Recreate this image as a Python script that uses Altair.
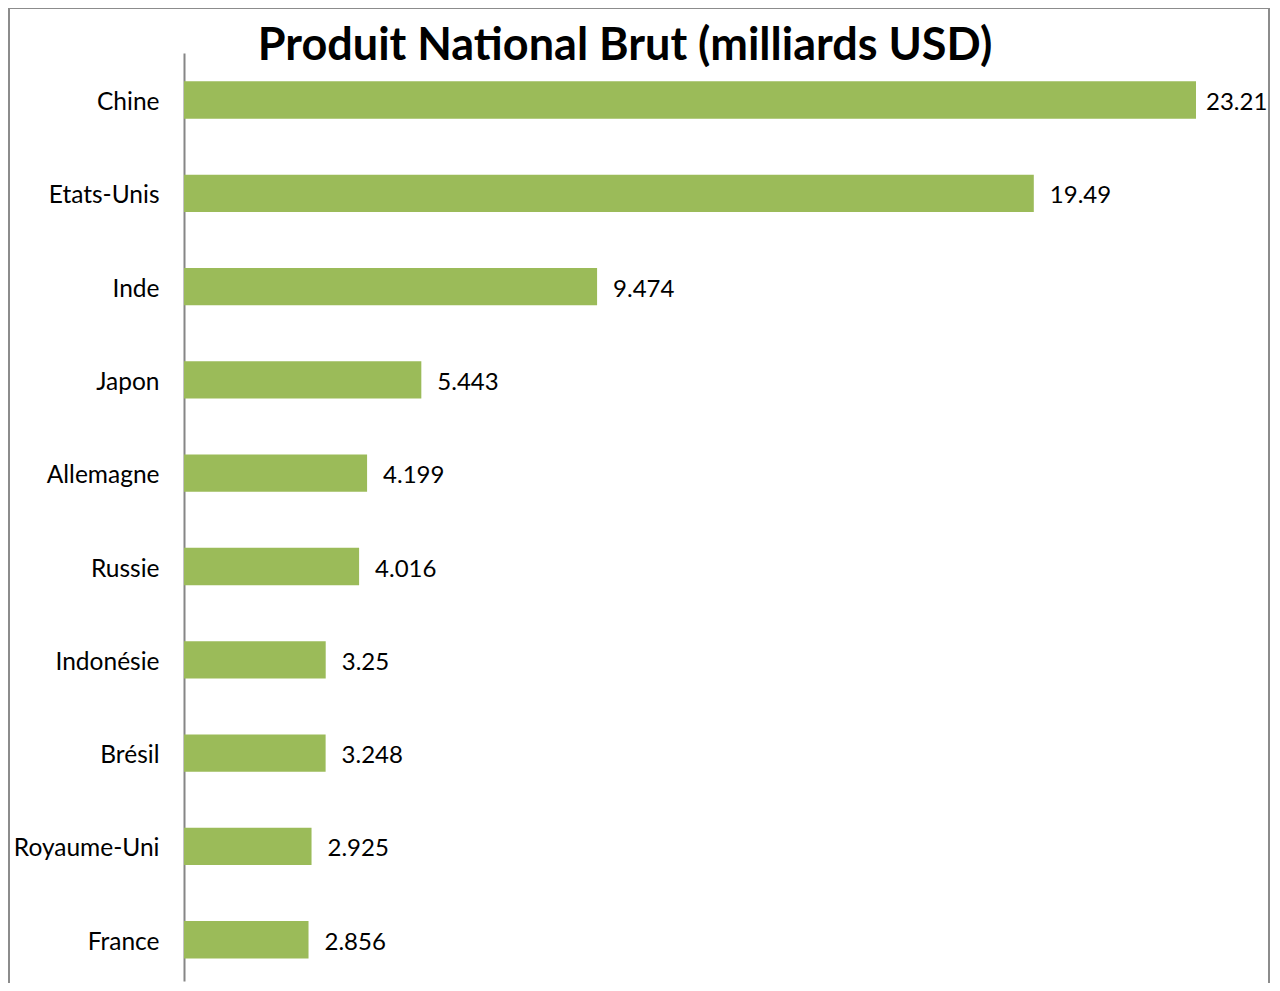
import altair as alt
import pandas as pd

countries = ["Chine", "Etats-Unis", "Inde", "Japon", "Allemagne", "Russie",
             "Indonésie", "Brésil", "Royaume-Uni", "France"]
values = [23.21, 19.49, 9.474, 5.443, 4.199, 4.016, 3.25, 3.248, 2.925, 2.856]
labels = ["23.21", "19.49", "9.474", "5.443", "4.199", "4.016", "3.25", "3.248", "2.925", "2.856"]
title_text = "Produit National Brut (milliards USD)"

df = pd.DataFrame({"pays": countries, "valeur": values, "label": labels})

FONT = "Lato"
W, H = 1012, 928

y_scale = alt.Scale(paddingInner=0.6, paddingOuter=0.273, align=0.556)
y_enc = alt.Y("pays:N", sort=countries, scale=y_scale,
              axis=alt.Axis(title=None, ticks=False, labelPadding=25, labelFontSize=24.5,
                            labelFont=FONT, labelColor="#000000", domainColor="#868686",
                            domainWidth=2, grid=False, labelLimit=300, labelOffset=3))
x_enc = alt.X("valeur:Q", scale=alt.Scale(domain=[0, 23.21], nice=False, zero=True),
              axis=None)
y_plain = alt.Y("pays:N", sort=countries)

bars = alt.Chart(df).mark_bar(color="#9BBB59").encode(x=x_enc, y=y_enc)
text_rest = alt.Chart(df).transform_filter(alt.datum.pays != "Chine").mark_text(
    align="left", baseline="middle", dx=16, dy=3, fontSize=24, font=FONT, color="#000000"
).encode(x=x_enc, y=y_plain, text="label:N")
text_top = alt.Chart(df).transform_filter(alt.datum.pays == "Chine").mark_text(
    align="left", baseline="middle", dx=10, dy=3, fontSize=24, font=FONT, color="#000000"
).encode(x=x_enc, y=y_plain, text="label:N")

one = pd.DataFrame({"t": [title_text]})
border = alt.Chart(one).mark_rect(
    fill=None, stroke="#8c8c8c", strokeWidth=2).encode(
    x=alt.value(-175), x2=alt.value(1085), y=alt.value(-45), y2=alt.value(1060))
title = alt.Chart(one).mark_text(
    align="center", baseline="alphabetic", font=FONT, fontSize=45, fontWeight="bold",
    color="#000000").encode(x=alt.value(441), y=alt.value(7), text="t:N")

chart = alt.layer(border, bars, text_rest, text_top, title).properties(
    width=W, height=H,
    padding={"left": 176, "top": 45, "right": 76, "bottom": 2},
    autosize=alt.AutoSizeParams(type="none"),
).configure_view(stroke=None)

chart.save("out.html", embed_options={"renderer": "svg", "actions": False})
